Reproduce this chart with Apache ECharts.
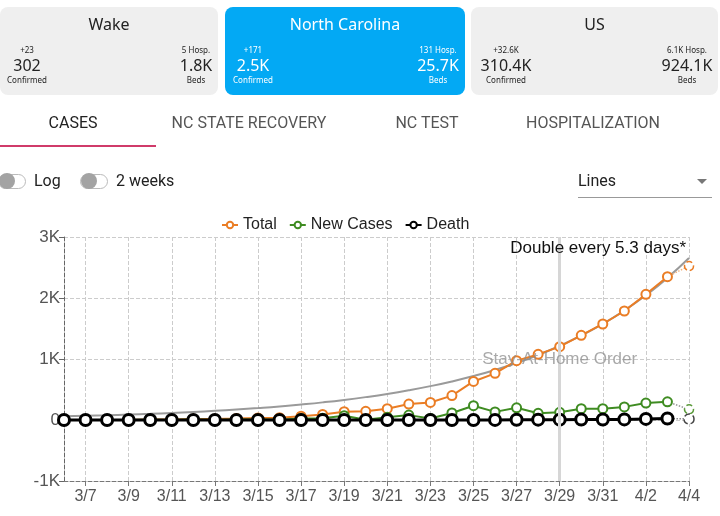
<!DOCTYPE html>
<html>
<head>
<meta charset="utf-8">
<script src="https://cdn.jsdelivr.net/npm/echarts@6/dist/echarts.min.js"></script>
<style>
  body { margin: 0; background: #fff; font-family: 'Liberation Sans', Arial, sans-serif; }
  #wrap { position: relative; width: 720px; height: 516px; overflow: hidden; }
  #main { position: absolute; left: 0; top: 0; width: 720px; height: 516px; }
  .card { position: absolute; top: 7px; height: 88px; border-radius: 8px; background: #efefef; color: #222; font-family: 'Noto Sans', sans-serif; }
  .card.on { background: #03a9f4; color: #fff; }
  .card .t { position: absolute; top: 6px; left: 0; right: 0; text-align: center; font-size: 16px; }
  .card .c { position: absolute; text-align: center; width: 70px; }
  .card .s { font-size: 8px; line-height: 10px; }
  .card .v { font-size: 16px; line-height: 20px; }
  .tab { position: absolute; top: 113px; font-family: Roboto, sans-serif; font-size: 16px; color: #555; transform: translateX(-50%); white-space: nowrap; }
  .tab.on { color: #222; }
  .ul { position: absolute; left: 0; top: 145px; width: 156px; height: 2px; background: #d03b6a; }
  .tog { position: absolute; top: 174px; width: 26px; height: 13px; border: 1px solid #bbb; border-radius: 8px; background: #fff; }
  .knob { position: absolute; top: 173px; width: 16px; height: 16px; border-radius: 50%; background: #a3a3a3; }
  .lbl { position: absolute; top: 171px; font-family: Roboto, sans-serif; font-size: 16px; color: #222; }
  .sel { position: absolute; left: 578px; top: 171px; font-family: Roboto, sans-serif; font-size: 16px; color: #222; }
  .selline { position: absolute; left: 578px; top: 197px; width: 134px; height: 1px; background: #999; }
  .arrow { position: absolute; left: 697px; top: 179px; width: 0; height: 0; border-left: 5px solid transparent; border-right: 5px solid transparent; border-top: 5px solid #777; }
</style>
</head>
<body>
<div id="wrap">
  <div id="main"></div>

  <div class="card" style="left:0;width:218px">
    <div class="t">Wake</div>
    <div class="c" style="left:-8px;top:38px"><div class="s">+23</div><div class="v">302</div><div class="s">Confirmed</div></div>
    <div class="c" style="left:161px;top:38px"><div class="s">5 Hosp.</div><div class="v">1.8K</div><div class="s">Beds</div></div>
  </div>
  <div class="card on" style="left:225px;width:240px">
    <div class="t">North Carolina</div>
    <div class="c" style="left:-7px;top:38px"><div class="s">+171</div><div class="v">2.5K</div><div class="s">Confirmed</div></div>
    <div class="c" style="left:178px;top:38px"><div class="s">131 Hosp.</div><div class="v">25.7K</div><div class="s">Beds</div></div>
  </div>
  <div class="card" style="left:471px;width:247px">
    <div class="t">US</div>
    <div class="c" style="left:0px;top:38px"><div class="s">+32.6K</div><div class="v">310.4K</div><div class="s">Confirmed</div></div>
    <div class="c" style="left:181px;top:38px"><div class="s">6.1K Hosp.</div><div class="v">924.1K</div><div class="s">Beds</div></div>
  </div>

  <div class="tab on" style="left:73px">CASES</div>
  <div class="tab" style="left:249px">NC STATE RECOVERY</div>
  <div class="tab" style="left:427px">NC TEST</div>
  <div class="tab" style="left:593px">HOSPITALIZATION</div>
  <div class="ul"></div>

  <div class="tog" style="left:-2px"></div><div class="knob" style="left:-1px"></div>
  <div class="lbl" style="left:34px">Log</div>
  <div class="tog" style="left:80px"></div><div class="knob" style="left:81px"></div>
  <div class="lbl" style="left:116px">2 weeks</div>

  <div class="sel">Lines</div>
  <div class="selline"></div>
  <div class="arrow"></div>
</div>
<script>
const dates = ['3/6','3/7','3/8','3/9','3/10','3/11','3/12','3/13','3/14','3/15',
  '3/16','3/17','3/18','3/19','3/20','3/21','3/22','3/23','3/24','3/25',
  '3/26','3/27','3/28','3/29','3/30','3/31','4/1','4/2','4/3','4/4'];
const totalCases = [2,2,2,2,7,7,15,17,24,33,38,63,92,136,143,186,262,288,400,632,
  765,973,1076,1202,1388,1574,1787,2060,2350,2525];
const newCases = [0,0,0,0,5,0,8,2,7,9,5,25,29,70,5,45,80,26,115,234,
  133,200,110,126,186,186,215,278,298,175];
const deaths = [0,0,0,0,0,0,0,0,0,0,0,0,0,0,0,0,0,0,0,1,
  2,4,6,6,8,9,10,18,24,18];
// fitted "double every 5.3 days" curve
const trend = [60,68,77,89,101,116,132,150,171,195,222,254,289,329,375,427,487,555,632,720,
  820,935,1065,1215,1385,1575,1795,2045,2330,2655];
const yTickLabels = {'-1000':'-1K','0':'0','1000':'1K','2000':'2K','3000':'3K'};
const orderDate = '3/29';
const orderLabel = 'Stay-At-Home Order';
const doubleText = 'Double every 5.3 days*';

const last = dates.length - 1;
const head = arr => arr.map((v, i) => i < last ? v : null);
const tail = arr => arr.map((v, i) => i >= last - 1 ? v : null);
const oddOnly = i => i % 2 === 1;

const myChart = echarts.init(document.getElementById('main'));

function mainSeries(name, data, color, lw, sym, bw, z) {
  return {
    name: name, type: 'line', data: head(data), z: z,
    symbol: 'circle', symbolSize: sym, showAllSymbol: true,
    lineStyle: { color: color, width: lw },
    itemStyle: { color: '#fff', borderColor: color, borderWidth: bw }
  };
}
function tailSeries(name, data, color, lineColor, sym, bw, z) {
  return {
    name: name, type: 'line', data: tail(data), z: z,
    symbol: (v, p) => p.dataIndex === last ? 'circle' : 'none',
    symbolSize: sym, showAllSymbol: true,
    lineStyle: { color: lineColor, width: 1.5, type: 'dotted' },
    itemStyle: { color: '#fff', borderColor: color, borderWidth: bw, borderType: 'dashed' }
  };
}

const option = {
  animation: false,
  textStyle: { fontFamily: 'Liberation Sans, Arial, sans-serif' },
  title: {
    text: doubleText, right: 29, top: 235,
    textStyle: { fontSize: 17, fontWeight: 'normal', color: '#111' }
  },
  legend: {
    data: ['Total', 'New Cases', 'Death'],
    left: 216, top: 212, itemWidth: 16, itemHeight: 8, itemGap: 12,
    textStyle: { fontSize: 16, color: '#222' }
  },
  grid: { left: 64, right: 31, top: 237, bottom: 35 },
  xAxis: {
    type: 'category', data: dates, boundaryGap: false,
    axisLine: { onZero: false, lineStyle: { color: '#777', type: 'dashed' } },
    axisTick: { interval: oddOnly, length: 5, lineStyle: { color: '#777' } },
    axisLabel: { interval: oddOnly, color: '#555', fontSize: 16, margin: 8 },
    splitLine: { show: true, interval: oddOnly, lineStyle: { color: '#ccc', type: 'dashed' } }
  },
  yAxis: {
    type: 'value', min: -1000, max: 3000, interval: 1000,
    axisLine: { show: true, lineStyle: { color: '#666', type: 'dashed' } },
    axisTick: { show: true, length: 5, lineStyle: { color: '#666' } },
    axisLabel: { color: '#555', fontSize: 17, margin: 4, formatter: v => yTickLabels[String(v)] },
    splitLine: { lineStyle: { color: '#ccc', type: 'dashed' } }
  },
  series: [
    {
      name: 'trend', type: 'line', data: trend, smooth: true, symbol: 'none', z: 1,
      lineStyle: { color: '#9a9a9a', width: 2 }, silent: true
    },
    mainSeries('Total', totalCases, '#ea7d25', 2, 9, 2, 2),
    tailSeries('Total', totalCases, '#ea7d25', '#f0b584', 9, 1.5, 2),
    mainSeries('New Cases', newCases, '#3f8c22', 2, 9, 2, 3),
    tailSeries('New Cases', newCases, '#5a9a3a', '#999', 9, 1.5, 3),
    mainSeries('Death', deaths, '#000', 3, 11, 3, 4),
    tailSeries('Death', deaths, '#444', '#888', 10, 1.5, 4),
    {
      name: 'order', type: 'line', data: [], z: 5,
      markLine: {
        silent: true, symbol: 'none',
        lineStyle: { color: '#d6d6d6', width: 3, type: 'solid' },
        label: { show: false },
        data: [{ xAxis: orderDate }]
      },
      markPoint: {
        silent: true, symbol: 'circle', symbolSize: 1,
        itemStyle: { color: 'rgba(0,0,0,0)' },
        label: { show: true, position: 'inside', formatter: orderLabel, color: 'rgba(140,140,140,0.75)', fontSize: 17 },
        data: [{ coord: [orderDate, 1000] }]
      }
    }
  ]
};
myChart.setOption(option);
</script>
</body>
</html>
